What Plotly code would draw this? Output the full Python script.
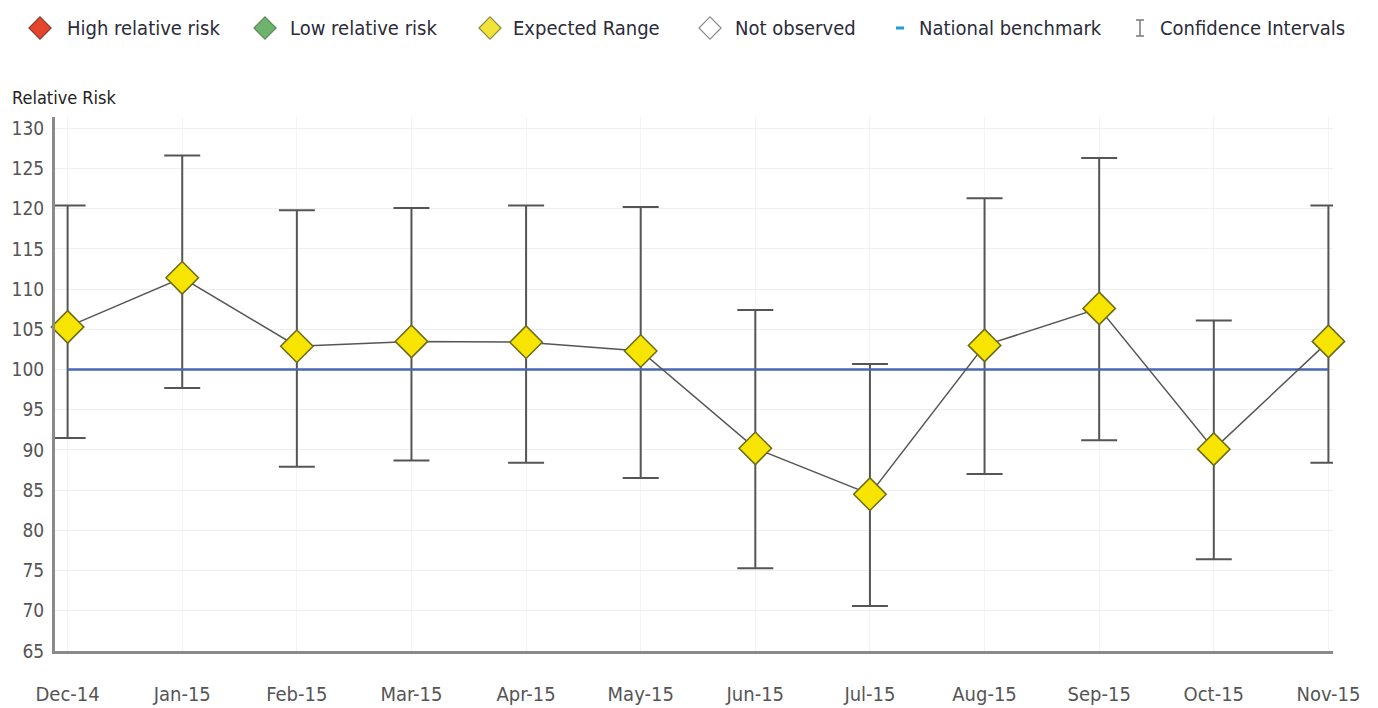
import plotly.graph_objects as go

# Monthly relative risk with 95% confidence limits
months = ["Dec-14", "Jan-15", "Feb-15", "Mar-15", "Apr-15", "May-15",
          "Jun-15", "Jul-15", "Aug-15", "Sep-15", "Oct-15", "Nov-15"]
relative_risk = [105.3, 111.4, 102.9, 103.5, 103.4, 102.3,
                 90.2, 84.5, 103.0, 107.6, 90.1, 103.5]
ci_upper = [120.4, 126.6, 119.8, 120.1, 120.4, 120.2,
            107.4, 100.7, 121.3, 126.3, 106.1, 120.4]
ci_lower = [91.5, 97.7, 87.9, 88.7, 88.4, 86.5,
            75.3, 70.6, 87.0, 91.2, 76.4, 88.4]
national_benchmark = 100

y_ticks = list(range(65, 131, 5))

legend_labels = ["High relative risk", "Low relative risk", "Expected Range",
                 "Not observed", "National benchmark", "Confidence Intervals"]

FONT = "DejaVu Sans Condensed, DejaVu Sans, sans-serif"
AXIS_GREY = "#8a8a8a"
TEXT_GREY = "#555555"
BAR_GREY = "#555555"

x_idx = list(range(len(months)))
err_plus = [u - v for u, v in zip(ci_upper, relative_risk)]
err_minus = [v - l for v, l in zip(relative_risk, ci_lower)]

fig = go.Figure()

# confidence interval whiskers
fig.add_trace(go.Scatter(
    x=x_idx, y=relative_risk, mode="markers",
    marker=dict(size=1, color="rgba(0,0,0,0)"),
    error_y=dict(type="data", symmetric=False, array=err_plus,
                 arrayminus=err_minus, color=BAR_GREY, thickness=2, width=18),
    showlegend=False, hoverinfo="skip", cliponaxis=False,
))

# national benchmark line
fig.add_trace(go.Scatter(
    x=x_idx, y=[national_benchmark] * len(months), mode="lines",
    line=dict(color="#4a67b5", width=2.5),
    showlegend=False, hoverinfo="skip",
))

# relative risk series
fig.add_trace(go.Scatter(
    x=x_idx, y=relative_risk, mode="lines+markers",
    line=dict(color="#555555", width=1.5),
    marker=dict(symbol="diamond", size=25, color="#f7e400",
                line=dict(color="#6b6a1c", width=1.5)),
    showlegend=False, cliponaxis=False,
))

# ---- legend strip drawn on a separate pixel-scaled axis pair ----
W, H = 1378, 708
legend_x = [40, 265, 490, 710]
legend_colors = ["#e5452c", "#6db36d", "#f2e33a", "#ffffff"]
legend_lines = ["#8a3a2e", "#5f8a5f", "#8e8a3a", "#8a8a8a"]
fig.add_trace(go.Scatter(
    x=legend_x, y=[28] * 4, mode="markers", xaxis="x2", yaxis="y2",
    marker=dict(symbol="diamond", size=17, color=legend_colors,
                line=dict(color=legend_lines, width=1.2)),
    showlegend=False, hoverinfo="skip", cliponaxis=False,
))
fig.add_trace(go.Scatter(
    x=[896, 904], y=[28, 28], mode="lines", xaxis="x2", yaxis="y2",
    line=dict(color="#1f9ad6", width=3),
    showlegend=False, hoverinfo="skip", cliponaxis=False,
))
fig.add_trace(go.Scatter(
    x=[1140], y=[28], mode="markers", xaxis="x2", yaxis="y2",
    marker=dict(size=1, color="rgba(0,0,0,0)"),
    error_y=dict(type="constant", value=8, color="#7a7a7a", thickness=1.5, width=4),
    showlegend=False, hoverinfo="skip", cliponaxis=False,
))

text_x = [65, 288, 511, 733, 917, 1158]
annotations = []
for tx, label in zip(text_x, legend_labels):
    annotations.append(dict(
        x=tx, y=28, xref="x2", yref="y2", text=label, showarrow=False,
        xanchor="left", yanchor="middle",
        font=dict(family=FONT, size=20, color="#2b2b3a"),
    ))
annotations.append(dict(
    x=10, y=97, xref="x2", yref="y2", text="Relative Risk", showarrow=False,
    xanchor="left", yanchor="middle",
    font=dict(family=FONT, size=18, color="#222222"),
))

# plot area in pixels: x 55..1333, y 117..651
PX_L, PX_R, PX_T, MB = 55, 1333, 117, 57
plot_h = H - MB
main_top = (H - MB - PX_T) / plot_h

fig.update_layout(
    width=W, height=H,
    margin=dict(l=0, r=0, t=0, b=MB, pad=0, autoexpand=False),
    paper_bgcolor="white", plot_bgcolor="rgba(0,0,0,0)",
    font=dict(family=FONT, color=TEXT_GREY),
    xaxis=dict(
        domain=[PX_L / W, PX_R / W], automargin=False,
        range=[-0.11, 11.04], tickvals=x_idx, ticktext=months,
        showgrid=True, gridcolor="#f4f4f4", gridwidth=1,
        showline=True, linecolor=AXIS_GREY, linewidth=3,
        ticks="", tickfont=dict(family=FONT, size=20, color=TEXT_GREY),
        ticklabelstandoff=23, zeroline=False, fixedrange=True,
    ),
    yaxis=dict(
        domain=[0, main_top], automargin=False,
        range=[65, 131.4], tickvals=y_ticks,
        showgrid=True, gridcolor="#efefef", gridwidth=1,
        showline=True, linecolor=AXIS_GREY, linewidth=3,
        ticks="", tickfont=dict(family=FONT, size=19, color=TEXT_GREY),
        ticklabelstandoff=4, zeroline=False, fixedrange=True,
    ),
    xaxis2=dict(domain=[0, 1], range=[0, W], anchor="y2", automargin=False,
                visible=False, fixedrange=True),
    yaxis2=dict(domain=[0, 1], range=[H - MB, 0], anchor="x2", automargin=False,
                visible=False, fixedrange=True),
    annotations=annotations,
    showlegend=False,
)

fig.write_html("out.html")
